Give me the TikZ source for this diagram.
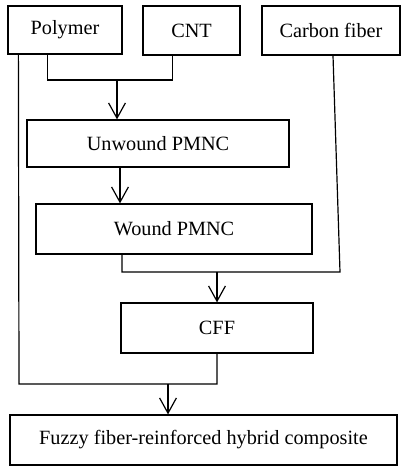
\documentclass[tikz,border=0pt]{standalone}
\usepackage{fontspec}
\setmainfont{Liberation Serif}
\usetikzlibrary{arrows.meta}

\tikzset{
  box/.style={draw, line width=0.85pt, inner sep=0pt, align=center},
  link/.style={line width=0.85pt},
  arr/.style={link, -{Straight Barb[length=0.38cm, width=0.42cm, line width=0.85pt]}}
}

\begin{document}
\begin{tikzpicture}[x=0.025cm, y=-0.025cm, font=\fontsize{14.4}{16}\selectfont]

\useasboundingbox (0,0) rectangle (401,466);

% Materiales de partida
\node[box, minimum width=2.85cm, minimum height=1.2cm] (poly) at (65,30) {Polymer};
\node[box, minimum width=2.425cm, minimum height=1.225cm] (cnt) at (191.5,30.5) {CNT};
\node[box, minimum width=3.45cm, minimum height=1.225cm] (carb) at (331,30.5) {Carbon fiber};

% Etapas del proceso
\node[box, minimum width=6.55cm, minimum height=1.175cm] (unw) at (158,143.5) {Unwound PMNC};
\node[box, minimum width=6.9cm, minimum height=1.25cm] (wnd) at (174,229) {Wound PMNC};
\node[box, minimum width=4.8cm, minimum height=1.25cm] (cff) at (217,328) {CFF};
\node[box, minimum width=9.675cm, minimum height=1.25cm] (fuzzy) at (203.5,440) {Fuzzy fiber-reinforced hybrid composite};

% Puntos de union
\coordinate (jA) at (117,80);
\coordinate (c1) at (120,0);
\coordinate (c2) at (122,0);
\coordinate (jB) at (217,272);
\coordinate (jBr) at (340,272);
\coordinate (jL) at (19,384);
\coordinate (jC) at (168,384);

% Polymer + CNT
\draw[link] (poly.south west) ++(40,0) |- (jA);
\draw[link] (cnt.south west) ++(30,0) |- (jA);
\draw[arr] (jA) -- (jA |- unw.north);

% Unwound -> Wound
\draw[arr] (unw.south -| c1) -- (wnd.north -| c1);

% Wound + Carbon fiber
\draw[link] (wnd.south -| c2) |- (jBr) -- ([xshift=0.05cm]carb.south);
\draw[arr] (jB) -- (cff.north);

% CFF + Polymer
\draw[link] (cff.south) |- (jL) -- ([xshift=0.275cm]poly.south west);
\draw[arr] (jC) -- (jC |- fuzzy.north);

\end{tikzpicture}
\end{document}
